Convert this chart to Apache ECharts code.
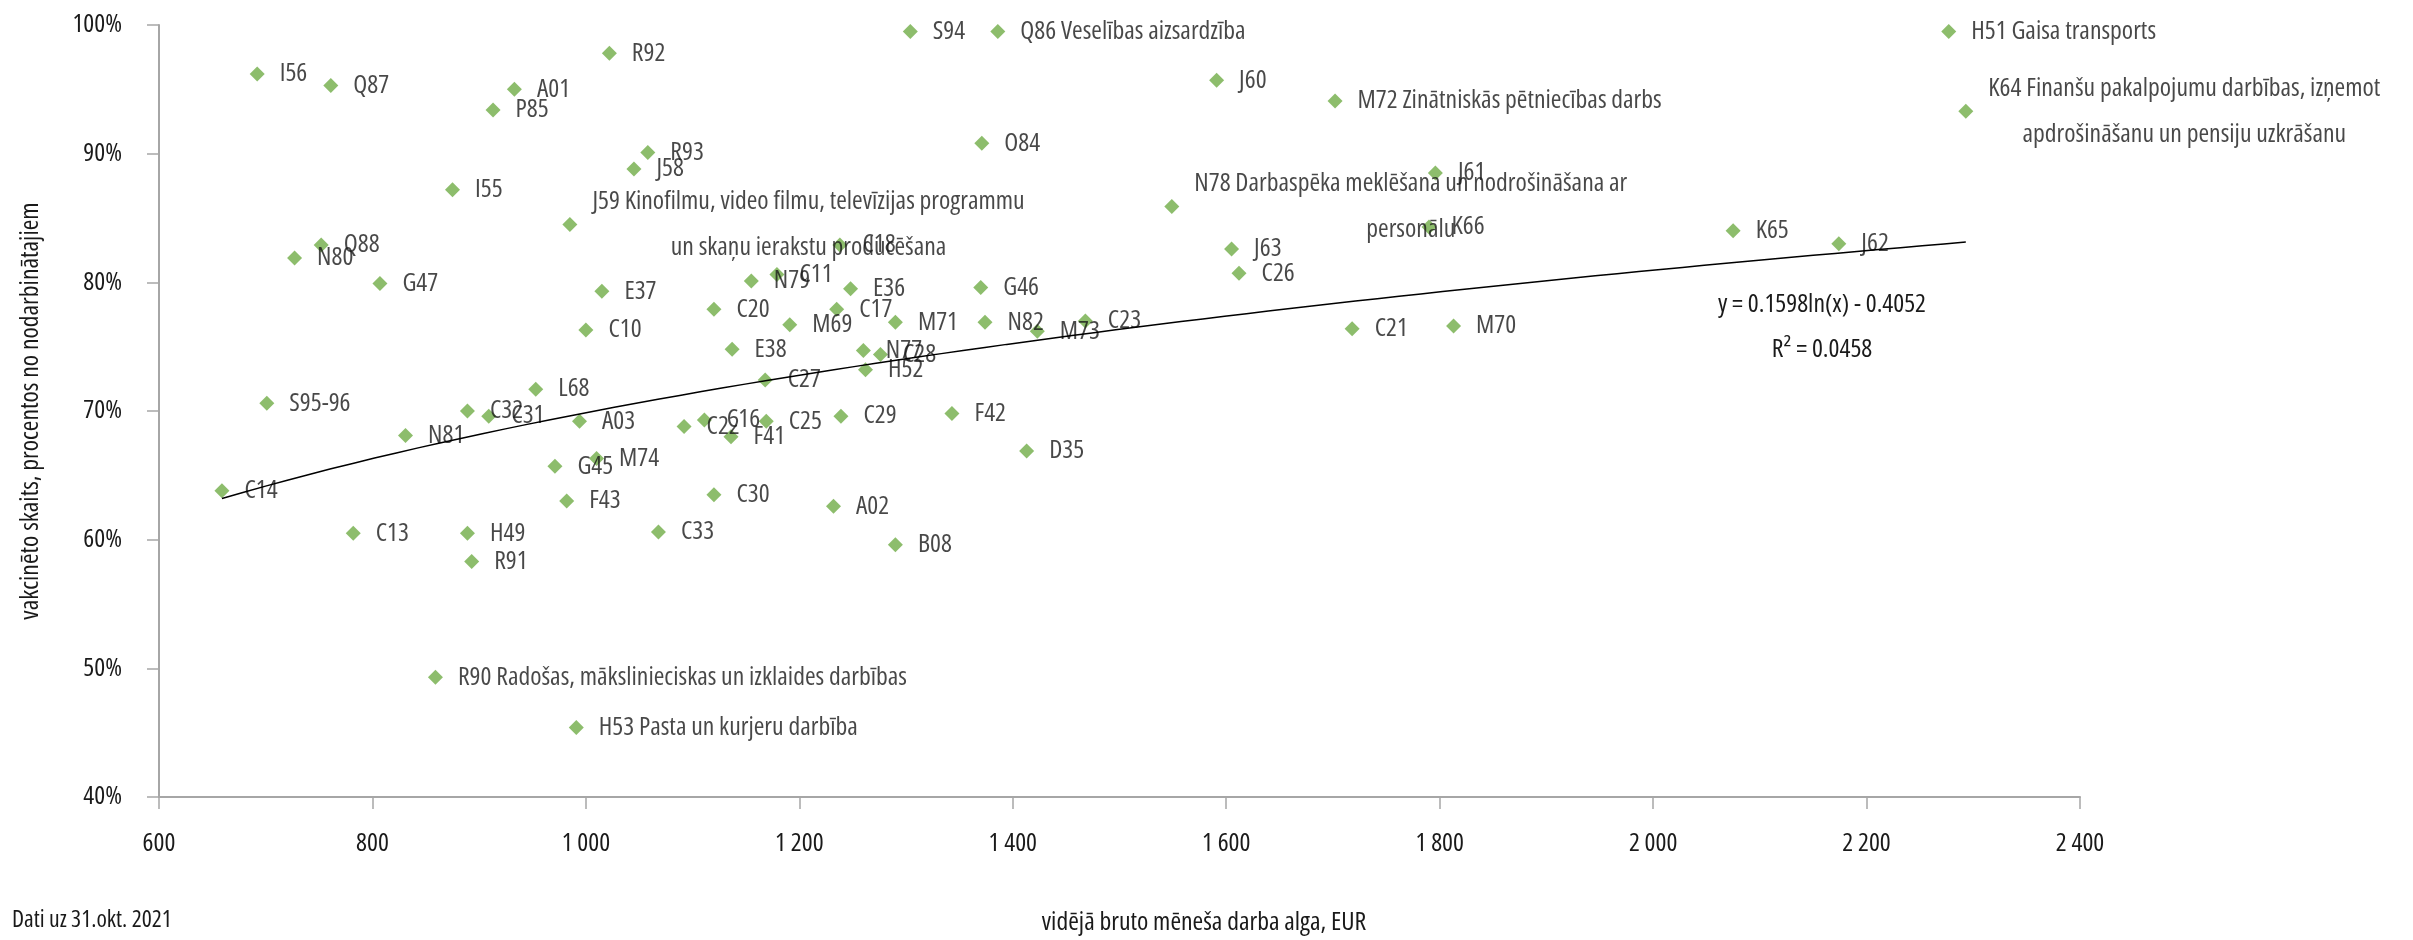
<!DOCTYPE html>
<html><head><meta charset="utf-8">
<script src="https://cdn.jsdelivr.net/npm/echarts@6/dist/echarts.min.js"></script>
<style>html,body{margin:0;padding:0;background:#fff}#c{width:2413px;height:940px}</style>
</head><body><div id="c"></div>
<script>
const sectors = [
  "I56","Q87","A01","P85","I55",
  "J59 Kinofilmu, video filmu, televīzijas programmu\nun skaņu ierakstu producēšana",
  "Q88","N80","G47","E37","R92","S94","Q86 Veselības aizsardzība","O84","R93","J58",
  "C18","C11","N79","E36","G46","J60","M72 Zinātniskās pētniecības darbs",
  "N78 Darbaspēka meklēšana un nodrošināšana ar\npersonālu",
  "J61","K66","J63","C26","H51 Gaisa transports",
  "K64 Finanšu pakalpojumu darbības, izņemot\napdrošināšanu un pensiju uzkrāšanu",
  "K65","J62","S95-96","C14","N81","C32","C31","L68","A03","G45","F43","M74",
  "C13","H49","R91","C10","R90 Radošas, mākslinieciskas un izklaides darbības",
  "H53 Pasta un kurjeru darbība","C20","M69","C17","M71","N82","M73","C23",
  "E38","N77","C28","H52","C27","C22","C16","F41","C25","C29","F42","D35",
  "C30","A02","C33","B08","C21","M70"
];
const wages = [
  692,761,933,913,875,
  985,
  752,727,807,1015,1022,1304,1386,1371,1058,1045,
  1238,1179,1155,1248,1370,1591,1702,
  1549,
  1796,1790,1605,1612,2277,
  2293,
  2075,2174,701,659,831,889,909,953,994,971,982,1010,
  782,889,893,1000,859,
  991,1120,1191,1235,1290,1374,1423,1468,
  1137,1260,1276,1262,1168,1092,1111,1136,1169,1239,1343,1413,
  1120,1232,1068,1290,1718,1813
];
const vaccinated = [
  96.2,95.3,95.0,93.4,87.2,
  84.5,
  82.9,81.9,79.9,79.3,97.8,99.5,99.5,90.8,90.1,88.8,
  82.9,80.6,80.1,79.5,79.6,95.7,94.1,
  85.9,
  88.5,84.3,82.6,80.7,99.5,
  93.3,
  84.0,83.0,70.6,63.8,68.1,70.0,69.6,71.7,69.2,65.7,63.0,66.3,
  60.5,60.5,58.3,76.3,49.3,
  45.4,77.9,76.7,77.9,76.9,76.9,76.2,77.0,
  74.8,74.7,74.4,73.2,72.4,68.8,69.3,68.0,69.2,69.6,69.8,66.9,
  63.5,62.6,60.6,59.6,76.4,76.6
];
// Trend line as stated on the chart: y = 0.1598 ln(x) - 0.4052
const TREND_A = 0.1598, TREND_B = -0.4052;
const trendText = ["y = 0.1598ln(x) - 0.4052", "R² = 0.0458"];
const xAxisName = "vidējā bruto mēneša darba alga, EUR";
const yAxisName = "vakcinēto skaits, procentos no nodarbinātajiem";
const footnote = "Dati uz 31.okt. 2021";

// choose the narrowest installed face (family + optional font-stretch keyword)
const mctx = document.createElement('canvas').getContext('2d');
function w(txt, size, fam, st) { mctx.font = (st ? st + ' ' : '') + size + 'px ' + fam; return mctx.measureText(txt).width; }
const REF = 'M72 Zinātniskās pētniecības darbs';
const fams = ["'Noto Sans'", "'Open Sans'", "Roboto", "'DejaVu Sans Condensed'", "'Liberation Sans Narrow'", "'DejaVu Sans'"];
const stretches = ['', 'extra-condensed', 'condensed', 'semi-condensed'];
let best = { fam: "'DejaVu Sans Condensed'", st: '', ratio: 1e9 };
for (const f of fams) {
  for (const st of stretches) {
    const a = w(REF, 40, f + ',monospace', st), b = w(REF, 40, f + ',serif', st);
    if (Math.abs(a - b) > 0.5) continue; // family not installed
    const ratio = a / 40;
    if (ratio < best.ratio - 0.01) best = { fam: f, st: st, ratio: ratio };
  }
}
const FONT = best.fam + ',sans-serif';
const STRETCH = best.st || 'normal';
let FS = Math.round(24 * 304 / w(REF, 24, FONT, best.st) * 10) / 10;
FS = Math.max(16, Math.min(32, FS));
const TXT = '#1a1a1a';
const measure = s => w(s, FS, FONT, best.st);
const ts = (size) => ({ fontSize: size, fontFamily: FONT, fontStyle: STRETCH });

const points = sectors.map((n, i) => {
  const item = { name: n, value: [wages[i], vaccinated[i]] };
  if (n.indexOf('\n') >= 0) {
    const mw = Math.max.apply(null, n.split('\n').map(measure));
    item.label = { align: 'center', offset: [mw / 2, 0] };
  }
  return item;
});

const xMin = Math.min.apply(null, wages), xMax = Math.max.apply(null, wages);
const trend = [];
for (let k = 0; k <= 80; k++) {
  const x = xMin + (xMax - xMin) * k / 80;
  trend.push([x, (TREND_A * Math.log(x) + TREND_B) * 100]);
}

const chart = echarts.init(document.getElementById('c'), null, { renderer: 'canvas' });
const axisLine = { show: true, lineStyle: { color: '#a6a6a6', width: 2 } };
const nameH = FS * 1.2;
chart.setOption({
  animation: false,
  backgroundColor: '#fff',
  textStyle: { fontFamily: FONT },
  grid: { left: 159, right: 333, top: 25, bottom: 143, outerBoundsMode: 'none' },
  xAxis: {
    type: 'value', min: 600, max: 2400, interval: 200,
    axisLine: axisLine,
    axisTick: { show: true, inside: false, length: 12, lineStyle: { color: '#a6a6a6', width: 1.5 } },
    splitLine: { show: false },
    axisLabel: Object.assign({
      margin: 34, color: TXT,
      formatter: v => String(v).replace(/\B(?=(\d{3})+(?!\d))/g, ' ')
    }, ts(FS))
  },
  yAxis: {
    type: 'value', min: 40, max: 100, interval: 10,
    name: yAxisName, nameLocation: 'middle', nameGap: 159 - 28 - nameH / 2, nameRotate: 90,
    nameTextStyle: Object.assign({ color: TXT }, ts(FS)),
    axisLine: axisLine,
    axisTick: { show: true, inside: false, length: 12, lineStyle: { color: '#a6a6a6', width: 1.5 } },
    splitLine: { show: false },
    axisLabel: Object.assign({ margin: 37, color: TXT, formatter: '{value}%' }, ts(FS))
  },
  series: [
    {
      type: 'line', data: trend, showSymbol: false, silent: true, z: 3,
      lineStyle: { color: '#000', width: 1.5 }
    },
    {
      type: 'scatter', data: points, symbol: 'diamond', symbolSize: 15, z: 2,
      itemStyle: { color: '#70AD47' },
      label: Object.assign({
        show: true, position: 'right', distance: 15, formatter: '{b}',
        color: TXT, lineHeight: 46
      }, ts(FS))
    }
  ],
  graphic: [
    { type: 'text', position: [1204, 923], style: Object.assign({ text: xAxisName, fill: TXT, textAlign: 'center', textVerticalAlign: 'middle' }, ts(FS)) },
    { type: 'text', position: [12, 920], style: Object.assign({ text: footnote, fill: TXT, textAlign: 'left', textVerticalAlign: 'middle' }, ts(FS * 0.92)) },
    { type: 'text', position: [1822, 305], style: Object.assign({ text: trendText[0], fill: TXT, textAlign: 'center', textVerticalAlign: 'middle' }, ts(FS)) },
    { type: 'text', position: [1822, 350], style: Object.assign({ text: trendText[1], fill: TXT, textAlign: 'center', textVerticalAlign: 'middle' }, ts(FS)) }
  ]
});
</script>
</body></html>
